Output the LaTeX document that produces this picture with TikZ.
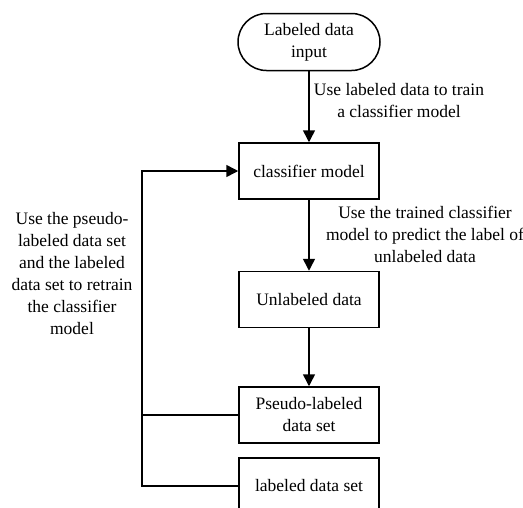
\documentclass[tikz,border=0pt]{standalone}
\usepackage{fontspec}
\setmainfont{Liberation Serif}
\usetikzlibrary{arrows.meta,shapes.misc}
\begin{document}
\begin{tikzpicture}[x=1pt,y=-1pt,
  every node/.style={font=\fontsize{17.5}{22}\selectfont},
  box/.style={draw,line width=1.5pt,minimum width=140pt,minimum height=56pt,align=center,inner sep=0pt},
  term/.style={draw,line width=1.5pt,rounded rectangle,minimum width=142pt,minimum height=57pt,align=center,inner sep=0pt},
  lbl/.style={align=center,inner sep=0pt},
  conn/.style={line width=1.5pt},
  arr/.style={line width=1.5pt,-{Triangle[length=12pt,width=12pt]}}]
\clip (0,0) rectangle (523,507);
\fill[white] (0,0) rectangle (523,507);
\node[term] (inp) at (309,42) {Labeled data\\input};
\node[box] (cls) at (309,171) {classifier model};
\node[box] (unl) at (309,299.5) {Unlabeled data};
\node[box] (pse) at (309,415) {Pseudo-labeled\\data set};
\node[box] (lab) at (309,486) {labeled data set};
\node[lbl] (l1) at (399,101) {Use labeled data to train\\a classifier model};
\node[lbl] (l2) at (425,234) {Use the trained classifier\\model to predict the label of\\unlabeled data};
\node[lbl] (l3) at (72,274) {Use the pseudo-\\labeled data set\\and the labeled\\data set to retrain\\the classifier\\model};
\coordinate (lx) at (142,0);
\draw[arr] (inp.south) -- (cls.north);
\draw[arr] (cls.south) -- (unl.north);
\draw[arr] (unl.south) -- (pse.north);
\draw[conn] (pse.west) -- (lx |- pse.west);
\draw[arr] (lab.west) -- (lx |- lab.west) |- (cls.west);
\end{tikzpicture}
\end{document}
